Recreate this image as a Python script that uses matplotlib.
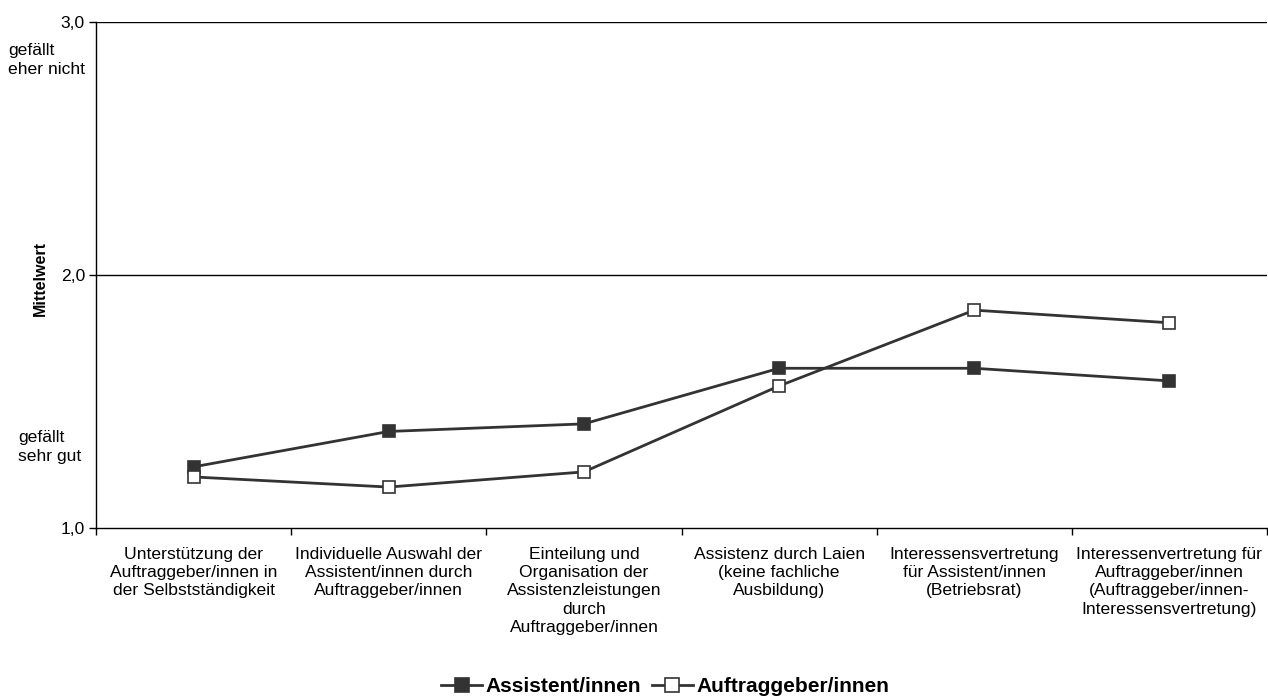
import matplotlib
matplotlib.use("Agg")
import matplotlib.pyplot as plt
from matplotlib.ticker import FixedLocator

plt.rcParams['font.family'] = ['Liberation Sans', 'DejaVu Sans']

categories = [
    "Unterstützung der\nAuftraggeber/innen in\nder Selbstständigkeit",
    "Individuelle Auswahl der\nAssistent/innen durch\nAuftraggeber/innen",
    "Einteilung und\nOrganisation der\nAssistenzleistungen\ndurch\nAuftraggeber/innen",
    "Assistenz durch Laien\n(keine fachliche\nAusbildung)",
    "Interessensvertretung\nfür Assistent/innen\n(Betriebsrat)",
    "Interessenvertretung für\nAuftraggeber/innen\n(Auftraggeber/innen-\nInteressensvertretung)",
]
assistent = [1.24, 1.38, 1.41, 1.63, 1.63, 1.58]
auftraggeber = [1.20, 1.16, 1.22, 1.56, 1.86, 1.81]
y_ticks = [1.0, 2.0, 3.0]
y_tick_labels = ["1,0", "2,0", "3,0"]

W, H = 1268, 698
FS = 12.6
fig = plt.figure(figsize=(W / 100, H / 100), dpi=100)
ax = fig.add_axes([96 / W, (H - 527.5) / H, (1267 - 96) / W, (527.5 - 22) / H])

line_color = "#333333"
x = list(range(len(categories)))
ax.plot(x, assistent, color=line_color, lw=2.0, marker="s", ms=9,
        mfc=line_color, mec=line_color, mew=1.2, label="Assistent/innen", zorder=3)
ax.plot(x, auftraggeber, color=line_color, lw=2.0, marker="s", ms=9,
        mfc="white", mec=line_color, mew=1.2, label="Auftraggeber/innen", zorder=3)

ax.set_xlim(-0.5, len(categories) - 0.5)
ax.set_ylim(1.0, 3.0)

ax.set_xticks(x)
ax.set_xticklabels(categories, fontsize=FS, va="top", linespacing=1.27)
ax.tick_params(axis="x", which="major", length=0, pad=14)
ax.xaxis.set_minor_locator(FixedLocator([i - 0.5 for i in range(len(categories) + 1)]))
ax.tick_params(axis="x", which="minor", length=5, width=1, direction="out", color="black")

ax.set_yticks(y_ticks)
ax.set_yticklabels(y_tick_labels, fontsize=FS)
ax.tick_params(axis="y", length=5, width=1, direction="out", pad=3)

for yv in y_ticks[1:]:
    ax.axhline(yv, color="black", lw=1.0, zorder=1)

for side in ["top", "right"]:
    ax.spines[side].set_visible(False)
for side in ["left", "bottom"]:
    ax.spines[side].set_linewidth(1.0)
    ax.spines[side].set_color("black")

fig.text(40 / W, 1 - 279 / H, "Mittelwert", fontsize=11.5, fontweight="bold",
         rotation=90, ha="center", va="center")

fig.text(8 / W, 1 - 43 / H, "gefällt\neher nicht", fontsize=FS, va="top", ha="left",
         linespacing=1.3)
fig.text(18 / W, 1 - 430 / H, "gefällt\nsehr gut", fontsize=FS, va="top", ha="left",
         linespacing=1.3)

leg = fig.legend(loc="center", bbox_to_anchor=(665 / W, 1 - 687 / H), ncol=2, frameon=False,
                 prop={"weight": "bold", "size": 15}, handlelength=2.0, handletextpad=0.15,
                 columnspacing=0.5, markerscale=1.1)

fig.savefig("out.png", dpi=100)
